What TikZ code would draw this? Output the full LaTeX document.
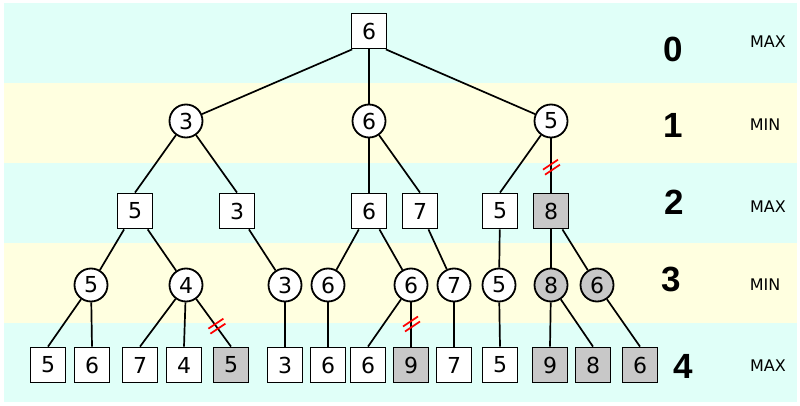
\documentclass[tikz,border=0pt]{standalone}
\usepackage{fontspec}
\setmainfont{DejaVu Sans}
\newfontfamily\levelfam{Liberation Sans}
\usepackage{tikz}
\usetikzlibrary{shapes}
\definecolor{bandcyan}{RGB}{224,255,248}
\definecolor{bandyellow}{RGB}{255,255,224}
\definecolor{prunedgrey}{RGB}{200,200,200}
\tikzstyle{maxnode} = [draw, fill=white, rectangle, line width=1.8pt, minimum size=35pt, inner sep=0pt, font=\fontsize{22}{22}\selectfont]
\tikzstyle{minnode} = [draw, fill=white, circle, line width=1.8pt, minimum size=33pt, inner sep=0pt, font=\fontsize{22}{22}\selectfont]
\tikzstyle{pruned} = [fill=prunedgrey]
\tikzstyle{edge} = [line width=1.7pt]
\tikzstyle{cutline} = [red, line width=1.7pt]
\tikzstyle{depth} = [font=\levelfam\bfseries\fontsize{35}{35}\selectfont]
\tikzstyle{role} = [font=\fontsize{16}{16}\selectfont]
\newcommand{\cutmark}[1]{\draw[cutline] ([shift={(-8,2)}]#1) -- ++(15,-10) ([shift={(-6,7)}]#1) -- ++(15,-10);}

\begin{document}
\begin{tikzpicture}[x=1pt, y=-1pt]
	\useasboundingbox (0,0) rectangle (800,406);
	% bands
	\fill [bandcyan] (4,3) rectangle (797,83);
	\fill [bandyellow] (4,83) rectangle (797,163);
	\fill [bandcyan] (4,163) rectangle (797,243);
	\fill [bandyellow] (4,243) rectangle (797,323);
	\fill [bandcyan] (4,323) rectangle (797,402);

	% level 0
	\node [maxnode] (root) at (369,31) {6};
	% level 1
	\node [minnode] (n1a) at (186,121) {3};
	\node [minnode] (n1b) at (369,121) {6};
	\node [minnode] (n1c) at (551,121) {5};
	% level 2
	\node [maxnode] (n2a) at (135,211) {5};
	\node [maxnode] (n2b) at (237,211) {3};
	\node [maxnode] (n2c) at (369,211) {6};
	\node [maxnode] (n2d) at (420,211) {7};
	\node [maxnode] (n2e) at (500,211) {5};
	\node [maxnode, pruned] (n2f) at (551,211) {8};
	% level 3
	\node [minnode] (n3a) at (91,285) {5};
	\node [minnode] (n3b) at (186,285) {4};
	\node [minnode] (n3c) at (285,285) {3};
	\node [minnode] (n3d) at (328,285) {6};
	\node [minnode] (n3e) at (411,285) {6};
	\node [minnode] (n3f) at (454,285) {7};
	\node [minnode] (n3g) at (499,285) {5};
	\node [minnode, pruned] (n3h) at (551,285) {8};
	\node [minnode, pruned] (n3i) at (597,285) {6};
	% level 4
	\node [maxnode] (n4a) at (48,365) {5};
	\node [maxnode] (n4b) at (92,365) {6};
	\node [maxnode] (n4c) at (140,365) {7};
	\node [maxnode] (n4d) at (184,365) {4};
	\node [maxnode, pruned] (n4e) at (231,365) {5};
	\node [maxnode] (n4f) at (285,365) {3};
	\node [maxnode] (n4g) at (328,365) {6};
	\node [maxnode] (n4h) at (368,365) {6};
	\node [maxnode, pruned] (n4i) at (411,365) {9};
	\node [maxnode] (n4j) at (454,365) {7};
	\node [maxnode] (n4k) at (500,365) {5};
	\node [maxnode, pruned] (n4l) at (550,365) {9};
	\node [maxnode, pruned] (n4m) at (593,365) {8};
	\node [maxnode, pruned] (n4n) at (640,365) {6};

	% depth and player labels
	\node [depth] (d0) at (673,49) {0};
	\node [depth] (d1) at (673,125) {1};
	\node [depth] (d2) at (674,202) {2};
	\node [depth] (d3) at (671,279) {3};
	\node [depth] (d4) at (683,366) {4};
	\node [role] (r0) at (768,42) {MAX};
	\node [role] (r1) at (765,125) {MIN};
	\node [role] (r2) at (768,207) {MAX};
	\node [role] (r3) at (765,285) {MIN};
	\node [role] (r4) at (768,366) {MAX};

	% edges
	\draw [edge] ([xshift=1.5pt]root.south west) -- (n1a);
	\draw [edge] (root) -- (n1b);
	\draw [edge] ([xshift=-1.5pt]root.south east) -- (n1c);
	\draw [edge] (n1a) -- (n2a.north);
	\draw [edge] (n1a) -- (n2b.north);
	\draw [edge] (n1b) -- (n2c.north);
	\draw [edge] (n1b) -- (n2d.north);
	\draw [edge] (n1c) -- (n2e.north);
	\draw [edge] (n1c) -- coordinate[pos=.54] (cut1) (n2f.north);
	\draw [edge] (n2a) -- (n3a);
	\draw [edge] (n2a) -- (n3b);
	\draw [edge] (n2b) -- (n3c);
	\draw [edge] (n2c) -- (n3d);
	\draw [edge] (n2c) -- (n3e);
	\draw [edge] (n2d) -- (n3f);
	\draw [edge] (n2e) -- (n3g);
	\draw [edge] (n2f) -- (n3h);
	\draw [edge] (n2f) -- (n3i);
	\draw [edge] (n3a) -- (n4a.north);
	\draw [edge] (n3a) -- (n4b.north);
	\draw [edge] (n3b) -- (n4c.north);
	\draw [edge] (n3b) -- (n4d.north);
	\draw [edge] (n3b) -- coordinate[pos=.58] (cut2) (n4e.north);
	\draw [edge] (n3c) -- (n4f.north);
	\draw [edge] (n3d) -- (n4g.north);
	\draw [edge] (n3e) -- (n4h.north);
	\draw [edge] (n3e) -- coordinate[pos=.5] (cut3) (n4i.north);
	\draw [edge] (n3f) -- (n4j.north);
	\draw [edge] (n3g) -- (n4k.north);
	\draw [edge] (n3h) -- (n4l.north);
	\draw [edge] (n3h) -- (n4m.north);
	\draw [edge] (n3i) -- (n4n.north);

	% pruning marks
	\cutmark{cut1}
	\cutmark{cut2}
	\cutmark{cut3}
\end{tikzpicture}
\end{document}
